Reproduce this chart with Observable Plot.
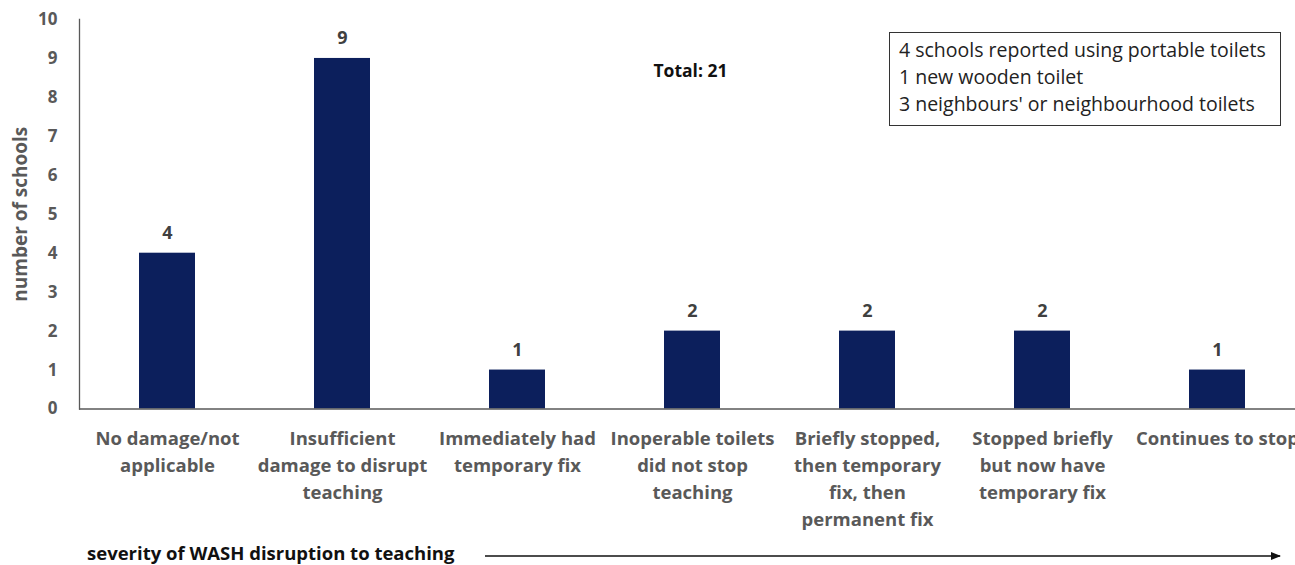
<!DOCTYPE html>
<html><head><meta charset="utf-8">
<script src="https://cdn.jsdelivr.net/npm/d3@7"></script>
<script src="https://cdn.jsdelivr.net/npm/@observablehq/plot@0.6"></script>
<style>
body{margin:0;background:#fff;font-family:"Open Sans",sans-serif;}
#wrap{position:relative;width:1295px;height:565px;overflow:hidden;background:#fff;}
#note{position:absolute;left:889px;top:32px;width:392px;height:94px;border:1.5px solid #333;box-sizing:border-box;padding:3px 0 0 9px;font-size:19.5px;line-height:27px;color:#222;}
#caption{position:absolute;left:0;top:540px;width:1295px;height:25px;}
#caption span{position:absolute;left:87px;top:0px;font-weight:bold;font-size:18.5px;color:#111;white-space:nowrap;}
#caption svg{position:absolute;left:0;top:0;}
</style></head><body>
<div id="wrap"><div id="chart"></div><div id="note"></div><div id="caption"></div></div>
<script>
const categories = [
  "No damage/not\napplicable",
  "Insufficient\ndamage to disrupt\nteaching",
  "Immediately had\ntemporary fix",
  "Inoperable toilets\ndid not stop\nteaching",
  "Briefly stopped,\nthen temporary\nfix, then\npermanent fix",
  "Stopped briefly\nbut now have\ntemporary fix",
  "Continues to stop"
];
const counts = [4, 9, 1, 2, 2, 2, 1];
const yTicks = [0, 1, 2, 3, 4, 5, 6, 7, 8, 9, 10];
const noteLines = [
  "4 schools reported using portable toilets",
  "1 new wooden toilet",
  "3 neighbours' or neighbourhood toilets"
];
const totalLabel = "Total: 21";
const yLabel = "number of schools";
const xCaption = "severity of WASH disruption to teaching";

const data = categories.map((c, i) => ({category: c, count: counts[i]}));
const grey = "#595959";

const chart = Plot.plot({
  width: 1295, height: 540,
  marginLeft: 79, marginRight: 0, marginTop: 19, marginBottom: 131.5,
  style: {fontFamily: "'Open Sans', sans-serif", background: "#fff"},
  x: {domain: categories, range: [79, 1304.5], paddingInner: 0.68, paddingOuter: 0.34, align: 0.5, axis: null},
  y: {domain: [0, 10], axis: null},
  marks: [
    Plot.barY(data, {x: "category", y: "count", fill: "#0c1f5c"}),
    Plot.axisY({ticks: yTicks, tickSize: 0, tickPadding: 22, fontSize: 17, fontWeight: "bold", fill: grey, label: null}),
    Plot.axisX({tickSize: 0, tickPadding: 17, fontSize: 18.5, fontWeight: "bold", fill: grey, lineHeight: 1.46, label: null, tickFormat: d => d}),
    Plot.ruleY([0], {stroke: grey, strokeWidth: 1.3}),
    Plot.frame({anchor: "left", stroke: grey, strokeWidth: 1.3}),
    Plot.text(data, {x: "category", y: "count", text: d => String(d.count), dy: -20, fontSize: 18, fontWeight: "bold", fill: "#404040"}),
    Plot.text([totalLabel], {frameAnchor: "top", dx: 3, dy: 45, fontSize: 17.5, fontWeight: "bold", fill: "#111"}),
    Plot.text([yLabel], {frameAnchor: "left", textAnchor: "middle", rotate: -90, dx: -59, fontSize: 19, fontWeight: "bold", fill: grey})
  ]
});
document.getElementById("chart").appendChild(chart);

document.getElementById("note").innerHTML = noteLines.map(t => `<div>${t}</div>`).join("");

const cap = document.getElementById("caption");
cap.innerHTML = `<svg width="1295" height="25"><defs><marker id="ah" viewBox="0 0 10 10" refX="9" refY="5" markerWidth="7" markerHeight="7" orient="auto"><path d="M0,1L10,5L0,9z" fill="#111"/></marker></defs><line x1="485" y1="16" x2="1280" y2="16" stroke="#111" stroke-width="1.5" marker-end="url(#ah)"/></svg><span>${xCaption}</span>`;
</script>
</body></html>
